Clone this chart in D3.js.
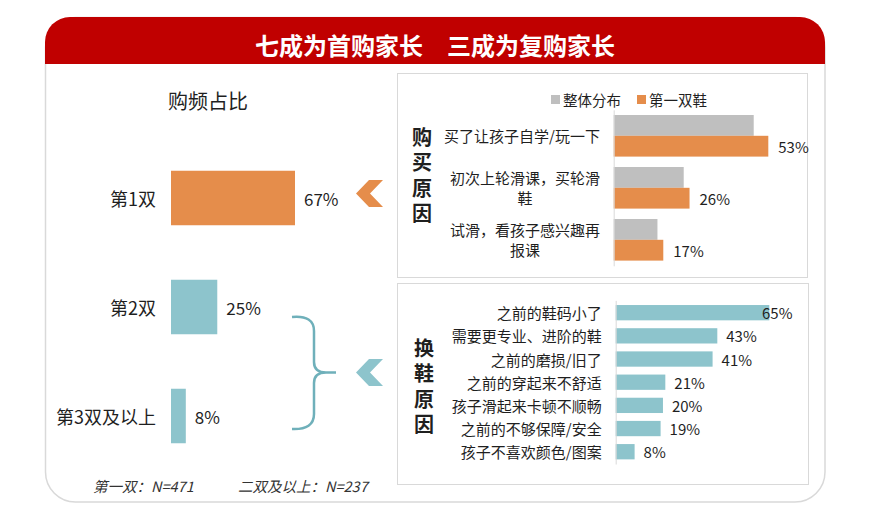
<!DOCTYPE html>
<html>
<head>
<meta charset="utf-8">
<script src="https://cdn.jsdelivr.net/npm/d3@7"></script>
<style>
  body { margin: 0; background: #fff; }
  text { font-family: "Noto Sans CJK SC", "Noto Sans", sans-serif; fill: #1f1f1f; }
</style>
</head>
<body>
<div class="canvas"></div>
<script>
// data
const freqCats = ['第1双', '第2双', '第3双及以上'];
const freqVals = [67, 25, 8];

const buyCats = [['买了让孩子自学/玩一下'], ['初次上轮滑课，买轮滑', '鞋'], ['试滑，看孩子感兴趣再', '报课']];
const buySeries = ['整体分布', '第一双鞋'];
const buyAll = [48, 24, 15];
const buyFirst = [53, 26, 17];

const changeCats = ['之前的鞋码小了', '需要更专业、进阶的鞋', '之前的磨损/旧了', '之前的穿起来不舒适',
  '孩子滑起来卡顿不顺畅', '之前的不够保障/安全', '孩子不喜欢颜色/图案'];
const changeVals = [65, 43, 41, 21, 20, 19, 8];

const orange = '#e58d4b', teal = '#8dc4cc', grey = '#bfbfbf', red = '#c00000', line = '#d9d9d9';

const svg = d3.select('.canvas').append('svg')
    .attr('width', 879)
    .attr('height', 514);

// outer frame + red header
svg.append('rect')
    .attr('x', 45.5).attr('y', 17.5)
    .attr('width', 779.5).attr('height', 484.5)
    .attr('rx', 30)
    .attr('fill', '#fff')
    .attr('stroke', line)
    .attr('stroke-width', 1.5);

svg.append('path')
    .attr('d', 'M45,64 L45,42 A25,25 0 0 1 70,17 L800,17 A25,25 0 0 1 825,42 L825,64 Z')
    .attr('fill', red);

svg.append('text')
    .text('七成为首购家长　三成为复购家长')
    .attr('x', 435).attr('y', 44)
    .attr('text-anchor', 'middle')
    .attr('dominant-baseline', 'central')
    .attr('font-size', 24)
    .attr('font-weight', 'bold')
    .style('fill', '#fff');

// ---------- left: purchase frequency ----------
svg.append('text')
    .text('购频占比')
    .attr('x', 208).attr('y', 100)
    .attr('text-anchor', 'middle')
    .attr('dominant-baseline', 'central')
    .attr('font-size', 20);

const fx = d3.scaleLinear().domain([0, 67]).range([171, 295]);
const fy = d3.scaleBand().domain(freqCats).range([143.5, 470.5]).paddingInner(0.5).paddingOuter(0.25);

const freq = svg.append('g');
freq.selectAll('rect')
    .data(freqVals)
    .enter().append('rect')
    .attr('x', fx(0))
    .attr('y', (d, i) => fy(freqCats[i]))
    .attr('width', d => fx(d) - fx(0))
    .attr('height', fy.bandwidth())
    .attr('fill', (d, i) => i === 0 ? orange : teal);

freq.selectAll('.val')
    .data(freqVals)
    .enter().append('text')
    .attr('class', 'val')
    .text(d => d + '%')
    .attr('x', d => fx(d) + 9)
    .attr('y', (d, i) => fy(freqCats[i]) + fy.bandwidth() / 2)
    .attr('dominant-baseline', 'central')
    .attr('font-size', 17);

freq.selectAll('.cat')
    .data(freqCats)
    .enter().append('text')
    .attr('class', 'cat')
    .text(d => d)
    .attr('x', 156)
    .attr('y', d => fy(d) + fy.bandwidth() / 2)
    .attr('text-anchor', 'end')
    .attr('dominant-baseline', 'central')
    .attr('font-size', 18);

// curly brace grouping 2nd & 3rd pair
svg.append('path')
    .attr('d', 'M292,317 Q314,315 314,331 L314,362 Q314,372.5 326,372.5 L336,372.5 M326,372.5 Q314,372.5 314,383 L314,414 Q314,430 292,429')
    .attr('fill', 'none')
    .attr('stroke', '#6fb0ba')
    .attr('stroke-width', 2.5);

// chevrons pointing to the panels
const chevron = 'M369,0 L383,0 L370,13.5 L383,27 L369,27 L356,13.5 Z';
svg.append('path').attr('d', chevron).attr('transform', 'translate(0,180)').attr('fill', orange);
svg.append('path').attr('d', chevron).attr('transform', 'translate(0,359)').attr('fill', teal);

// footer notes
svg.append('text').text('第一双：N=471')
    .attr('x', 93).attr('y', 485)
    .attr('dominant-baseline', 'central')
    .attr('font-size', 14.5).attr('font-style', 'italic')
    .style('fill', '#333');
svg.append('text').text('二双及以上：N=237')
    .attr('x', 238).attr('y', 485)
    .attr('dominant-baseline', 'central')
    .attr('font-size', 14.5).attr('font-style', 'italic')
    .style('fill', '#333');

// ---------- top right: reasons to buy ----------
svg.append('rect')
    .attr('x', 397.5).attr('y', 73.5)
    .attr('width', 410).attr('height', 204)
    .attr('fill', 'none').attr('stroke', line);

// vertical panel titles, one text each
function vTitle(chars, x, yTop) {
    svg.append('text')
        .text(chars)
        .attr('x', x)
        .attr('y', yTop)
        .attr('font-size', 20)
        .attr('font-weight', 'bold')
        .style('writing-mode', 'vertical-rl')
        .style('glyph-orientation-vertical', '0')
        .style('letter-spacing', '5.5px');
}
vTitle('购买原因', 422, 127);

const bx = d3.scaleLinear().domain([0, 53]).range([613.7, 768.3]);
const by = d3.scaleBand().domain(d3.range(buyCats.length)).range([109.8, 265.8]).paddingInner(0.2).paddingOuter(0.1);
const bsub = d3.scaleBand().domain(buySeries).range([0, by.bandwidth()]);
const bcol = d3.scaleOrdinal().domain(buySeries).range([grey, orange]);

const buy = svg.append('g');
const groups = buy.selectAll('g')
    .data(d3.range(buyCats.length))
    .enter().append('g')
    .attr('transform', i => `translate(0,${by(i)})`);

groups.selectAll('rect')
    .data(i => [{ s: buySeries[0], v: buyAll[i] }, { s: buySeries[1], v: buyFirst[i] }])
    .enter().append('rect')
    .attr('x', bx(0))
    .attr('y', d => bsub(d.s))
    .attr('width', d => bx(d.v) - bx(0))
    .attr('height', bsub.bandwidth())
    .attr('fill', d => bcol(d.s));

groups.append('text')
    .text(i => buyFirst[i] + '%')
    .attr('x', i => bx(buyFirst[i]) + 10)
    .attr('y', bsub(buySeries[1]) + bsub.bandwidth() / 2)
    .attr('dominant-baseline', 'central')
    .attr('font-size', 15);

// wrapped category labels: first line right-aligned, later lines centred under it
groups.each(function (i) {
    const lines = buyCats[i];
    const g = d3.select(this);
    const mid = by.bandwidth() / 2;
    const first = g.append('text')
        .text(lines[0])
        .attr('x', 600)
        .attr('y', mid - (lines.length - 1) * 10)
        .attr('text-anchor', 'end')
        .attr('dominant-baseline', 'central')
        .attr('font-size', 15);
    const w = first.node().getComputedTextLength();
    lines.slice(1).forEach((l, k) => {
        g.append('text')
            .text(l)
            .attr('x', 600 - w / 2)
            .attr('y', mid - (lines.length - 1) * 10 + (k + 1) * 20)
            .attr('text-anchor', 'middle')
            .attr('dominant-baseline', 'central')
            .attr('font-size', 15);
    });
});

buy.append('g')
    .attr('transform', `translate(${bx(0)},0)`)
    .call(d3.axisLeft(by).tickSize(0).tickFormat(''))
    .call(g => g.select('.domain').attr('stroke', line));

// legend
const leg = svg.append('g').attr('transform', 'translate(551,95)');
buySeries.forEach((s, i) => {
    const g = leg.append('g').attr('transform', `translate(${i * 86},0)`);
    g.append('rect').attr('width', 9).attr('height', 9).attr('fill', bcol(s));
    g.append('text').text(s)
        .attr('x', 12).attr('y', 4.5)
        .attr('dominant-baseline', 'central')
        .attr('font-size', 14.5);
});

// ---------- bottom right: reasons to change ----------
svg.append('rect')
    .attr('x', 397.5).attr('y', 283.5)
    .attr('width', 411).attr('height', 201)
    .attr('fill', 'none').attr('stroke', line);

vTitle('换鞋原因', 424, 338);

const cx = d3.scaleLinear().domain([0, 65]).range([615.7, 769.3]);
const cy = d3.scaleBand().domain(changeCats).range([300.4, 464]).paddingInner(0.34).paddingOuter(0.2);

const change = svg.append('g');
change.selectAll('rect')
    .data(changeVals)
    .enter().append('rect')
    .attr('x', cx(0))
    .attr('y', (d, i) => cy(changeCats[i]))
    .attr('width', d => cx(d) - cx(0))
    .attr('height', cy.bandwidth())
    .attr('fill', teal);

change.selectAll('.val')
    .data(changeVals)
    .enter().append('text')
    .attr('class', 'val')
    .text(d => d + '%')
    .attr('x', d => Math.min(cx(d) + 9, 762))
    .attr('y', (d, i) => cy(changeCats[i]) + cy.bandwidth() / 2)
    .attr('dominant-baseline', 'central')
    .attr('font-size', 15);

change.append('g')
    .attr('transform', `translate(${cx(0)},0)`)
    .call(d3.axisLeft(cy).tickSize(0).tickPadding(14))
    .call(g => g.select('.domain').attr('stroke', line))
    .call(g => g.selectAll('.tick text')
        .attr('font-size', 15)
        .attr('font-family', null)
        .attr('dy', null)
        .attr('dominant-baseline', 'central')
        .style('fill', '#1f1f1f'));
</script>
</body>
</html>
